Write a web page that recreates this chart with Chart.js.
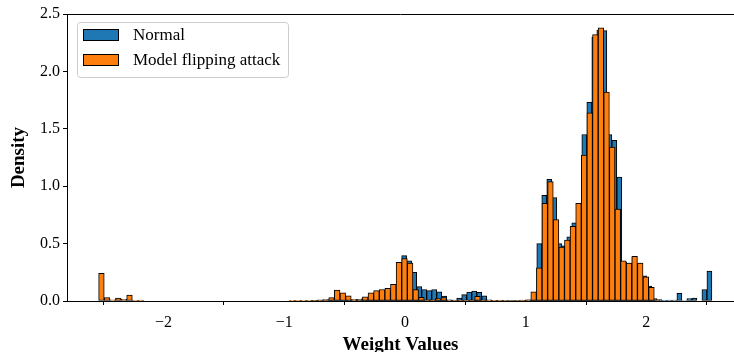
<!DOCTYPE html>
<html>
<head>
<meta charset="utf-8">
<script src="https://cdn.jsdelivr.net/npm/chart.js@4.4.0/dist/chart.umd.min.js"></script>
<style>
  html, body { margin: 0; padding: 0; background: #fff; }
  #wrap { width: 734px; height: 352px; position: relative; }
</style>
</head>
<body>
<div id="wrap"><canvas id="histChart"></canvas></div>
<script>
// =========================================================
// DATA
// =========================================================

// Each histogram has its own 100 bins: left edge of the first bin + bin width
const flippedBinStart = -2.538;
const flippedBinWidth = 0.0465;
const normalBinStart = -1.603;
const normalBinWidth = 0.04146;

// Density per bin, "Model flipping attack" (orange)
const flippedDensity = [
  0.24, 0.03, 0.01, 0.025, 0.015, 0.052, 0.003, 0.008, 0, 0,
  0, 0, 0, 0, 0, 0, 0, 0, 0, 0,
  0, 0, 0, 0, 0, 0, 0, 0, 0, 0,
  0, 0, 0, 0, 0.002, 0.003, 0.003, 0.005, 0.005, 0.01,
  0.012, 0.03, 0.096, 0.072, 0.046, 0.012, 0.015, 0.037, 0.072, 0.09,
  0.10, 0.11, 0.145, 0.337, 0.37, 0.33, 0.10, 0.032, 0.01, 0.01,
  0.02, 0.03, 0.008, 0.005, 0.005, 0.004, 0.008, 0.04, 0.008, 0.004,
  0.003, 0.003, 0.003, 0.004, 0.005, 0.008, 0.01, 0.08, 0.29, 0.85,
  1.04, 0.71, 0.47, 0.53, 0.65, 0.85, 1.27, 1.64, 2.32, 2.38,
  1.82, 1.34, 0.80, 0.35, 0.33, 0.39, 0.33, 0.21, 0.12, 0.01
];

// Density per bin, "Normal" (blue)
const normalDensity = [
  0, 0, 0, 0, 0, 0, 0, 0, 0, 0,
  0, 0, 0, 0, 0, 0, 0, 0, 0, 0,
  0.003, 0.005, 0.008, 0.01, 0.01, 0.01, 0.01, 0.01, 0.01, 0.012,
  0.02, 0.03, 0.04, 0.05, 0.06, 0.08, 0.12, 0.33, 0.395, 0.35,
  0.25, 0.125, 0.10, 0.09, 0.10, 0.08, 0.042, 0.01, 0.008, 0.025,
  0.055, 0.078, 0.086, 0.075, 0.045, 0.01, 0.005, 0.003, 0.003, 0.003,
  0.003, 0.004, 0.005, 0.01, 0.07, 0.50, 0.92, 1.06, 0.90, 0.50,
  0.48, 0.56, 0.68, 0.84, 1.45, 1.73, 2.30, 2.36, 2.355, 1.45,
  1.40, 1.08, 0.34, 0.33, 0.38, 0.33, 0.22, 0.13, 0.02, 0.012,
  0.003, 0.008, 0.008, 0.067, 0.004, 0.02, 0.025, 0, 0.10, 0.26
];

const seriesLabels = ['Normal', 'Model flipping attack'];
const seriesColors = ['#1f77b4', '#ff7f0e'];
const xTicks = [-2, -1, 0, 1, 2];
const yTicks = [0, 0.5, 1.0, 1.5, 2.0, 2.5];
const xRange = [-2.80, 2.726];
const yRange = [0, 2.5];

// Bin centres -> points for the linear x scale
function toPoints(values, start, width) {
    return values.map((v, i) => ({ x: start + width * (i + 0.5), y: v }));
}

// =========================================================
// PLUGINS
// =========================================================

// Top spine (matplotlib style frame)
const topSpine = {
    id: 'topSpine',
    afterDraw(chart) {
        const { ctx, chartArea } = chart;
        ctx.save();
        ctx.strokeStyle = '#000';
        ctx.lineWidth = 1;
        ctx.beginPath();
        ctx.moveTo(chartArea.left, chartArea.top + 0.5);
        ctx.lineTo(chartArea.right, chartArea.top + 0.5);
        ctx.stroke();
        ctx.restore();
    }
};

// Legend box in the upper-left corner of the plot area
const boxLegend = {
    id: 'boxLegend',
    afterDraw(chart) {
        const { ctx, chartArea } = chart;
        const x = chartArea.left + 10, y = chartArea.top + 8;
        const w = 211, h = 55, r = 3;
        ctx.save();
        ctx.fillStyle = 'rgba(255,255,255,0.8)';
        ctx.strokeStyle = '#cccccc';
        ctx.lineWidth = 1;
        ctx.beginPath();
        ctx.roundRect(x + 0.5, y + 0.5, w, h, r);
        ctx.fill();
        ctx.stroke();

        ctx.font = '17px "Liberation Serif", "Times New Roman", serif';
        ctx.textBaseline = 'middle';
        chart.data.datasets.forEach((ds, i) => {
            const rowY = y + 13 + i * 25;
            ctx.fillStyle = ds.backgroundColor;
            ctx.fillRect(x + 6, rowY - 6, 36, 12);
            ctx.strokeStyle = '#000';
            ctx.strokeRect(x + 6.5, rowY - 5.5, 35, 11);
            ctx.fillStyle = '#000';
            ctx.fillText(ds.label, x + 56, rowY + 1);
        });
        ctx.restore();
    }
};

// =========================================================
// CHART
// =========================================================

Chart.defaults.font.family = '"Liberation Serif", "Times New Roman", serif';
Chart.defaults.color = '#000';

const barStyle = {
    borderColor: '#000',
    borderWidth: 1,
    barPercentage: 1,
    categoryPercentage: 1,
    grouped: false,
    borderSkipped: false
};

const ctx = document.getElementById('histChart').getContext('2d');

new Chart(ctx, {
    type: 'bar',
    data: {
        datasets: [
            {
                label: seriesLabels[0],
                data: toPoints(normalDensity, normalBinStart, normalBinWidth),
                backgroundColor: seriesColors[0],
                xAxisID: 'x',
                order: 2,
                ...barStyle
            },
            {
                label: seriesLabels[1],
                data: toPoints(flippedDensity, flippedBinStart, flippedBinWidth),
                backgroundColor: seriesColors[1],
                xAxisID: 'x2',
                order: 1,
                ...barStyle
            }
        ]
    },
    options: {
        responsive: true,
        maintainAspectRatio: false,
        animation: false,
        layout: { padding: { top: 14, right: 0, left: 0, bottom: 0 } },
        plugins: {
            legend: { display: false },
            tooltip: { enabled: false }
        },
        scales: {
            x: {
                type: 'linear',
                min: xRange[0],
                max: xRange[1],
                offset: false,
                afterBuildTicks: s => { s.ticks = xTicks.map(v => ({ value: v })); },
                afterFit: s => { s.height = 51; },
                ticks: {
                    font: { size: 16 },
                    padding: 8,
                    maxRotation: 0,
                    callback: v => (v < 0 ? '\u2212' + Math.abs(v) : String(v))
                },
                grid: { drawOnChartArea: false, drawTicks: true, tickLength: 4, color: '#000' },
                border: { display: true, color: '#000', width: 1 },
                title: {
                    display: true,
                    text: 'Weight Values',
                    font: { size: 19, weight: 'bold' },
                    padding: { top: 0, bottom: -4 }
                }
            },
            x2: {
                type: 'linear',
                min: xRange[0],
                max: xRange[1],
                offset: false,
                display: false
            },
            y: {
                min: yRange[0],
                max: yRange[1],
                afterBuildTicks: s => { s.ticks = yTicks.map(v => ({ value: v })); },
                afterFit: s => { s.width = 67; },
                ticks: {
                    font: { size: 16 },
                    padding: 3,
                    callback: v => Number(v).toFixed(1)
                },
                grid: { drawOnChartArea: false, drawTicks: true, tickLength: 4, color: '#000' },
                border: { display: true, color: '#000', width: 1 },
                title: {
                    display: true,
                    text: 'Density',
                    font: { size: 19, weight: 'bold' },
                    padding: { top: 8, bottom: 8 }
                }
            }
        }
    },
    plugins: [topSpine, boxLegend]
});
</script>
</body>
</html>
